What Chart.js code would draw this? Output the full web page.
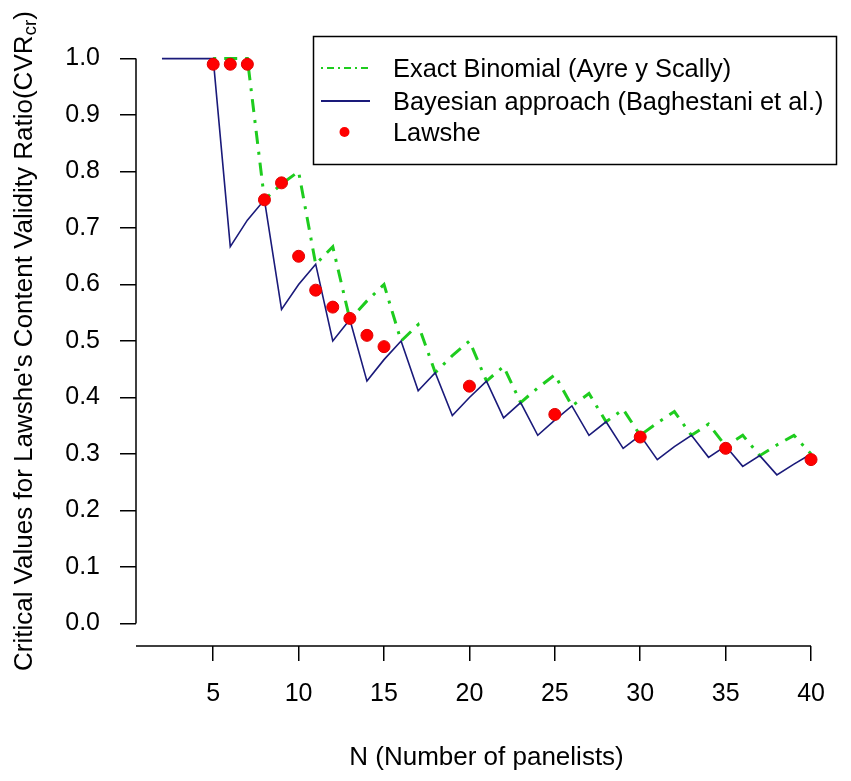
<!DOCTYPE html>
<html>
<head>
<meta charset="utf-8">
<title>Critical values for Lawshe's CVR</title>
<script src="https://cdn.jsdelivr.net/npm/chart.js@4.4.1/dist/chart.umd.min.js"></script>
<style>
    html, body { margin: 0; padding: 0; background: #fff; }
    #wrap { width: 851px; height: 781px; }
</style>
</head>
<body>
<div id="wrap"><canvas id="cvrChart" width="851" height="781"></canvas></div>
<script>
// ==========================================
// DATA
// ==========================================
const panelists = [2, 3, 4, 5, 6, 7, 8, 9, 10, 11, 12, 13, 14, 15, 16, 17, 18, 19, 20, 21,
    22, 23, 24, 25, 26, 27, 28, 29, 30, 31, 32, 33, 34, 35, 36, 37, 38, 39, 40];

// Exact binomial (Ayre y Scally) - not drawn below N = 5
const exactBinomial = [null, null, null, 1.0, 1.0, 1.0, 0.75, 0.778, 0.8, 0.636,
    0.667, 0.538, 0.571, 0.6, 0.5, 0.529, 0.444, 0.474, 0.5, 0.429,
    0.455, 0.391, 0.417, 0.44, 0.385, 0.407, 0.357, 0.379, 0.333, 0.355,
    0.375, 0.333, 0.353, 0.314, 0.333, 0.297, 0.316, 0.333, 0.3];

// Bayesian approach (Baghestani et al.)
const bayesian = [1.0, 1.0, 1.0, 1.0, 0.667, 0.714, 0.75, 0.556, 0.6, 0.636,
    0.5, 0.538, 0.429, 0.467, 0.5, 0.412, 0.444, 0.368, 0.4, 0.429,
    0.364, 0.391, 0.333, 0.36, 0.385, 0.333, 0.357, 0.31, 0.333, 0.29,
    0.313, 0.333, 0.294, 0.314, 0.278, 0.297, 0.263, 0.282, 0.3];

// Lawshe's original table
const lawsheN = [5, 6, 7, 8, 9, 10, 11, 12, 13, 14, 15, 20, 25, 30, 35, 40];
const lawsheCVR = [0.99, 0.99, 0.99, 0.75, 0.78, 0.65, 0.59, 0.56, 0.54, 0.51, 0.49,
    0.42, 0.37, 0.33, 0.31, 0.29];

const xTicks = [5, 10, 15, 20, 25, 30, 35, 40];
const yTicks = [0, 0.1, 0.2, 0.3, 0.4, 0.5, 0.6, 0.7, 0.8, 0.9, 1.0];

const seriesLabels = ['Exact Binomial (Ayre y Scally)', 'Bayesian approach (Baghestani et al.)', 'Lawshe'];
const xTitle = 'N (Number of panelists)';
const yTitle = "Critical Values for Lawshe's Content Validity Ratio(CVR";
const yTitleSub = 'cr';

const FONT = '"Liberation Sans", Arial, sans-serif';
const GREEN = '#1ECC1E';
const NAVY = '#1A1A7A';
const RED = '#FF0000';

// ==========================================
// PLUGINS: R-style axis lines, y title, legend box
// ==========================================
const rAxisLines = {
    id: 'rAxisLines',
    afterDraw(chart) {
        const { ctx, chartArea, scales } = chart;
        ctx.save();
        ctx.strokeStyle = '#000';
        ctx.lineWidth = 1.5;
        ctx.beginPath();
        ctx.moveTo(chartArea.left, chartArea.bottom);
        ctx.lineTo(scales.x.getPixelForValue(xTicks[xTicks.length - 1]), chartArea.bottom);
        ctx.moveTo(chartArea.left, scales.y.getPixelForValue(yTicks[0]));
        ctx.lineTo(chartArea.left, scales.y.getPixelForValue(yTicks[yTicks.length - 1]));
        ctx.stroke();

        // y title with subscript
        const cy = (chartArea.top + chartArea.bottom) / 2;
        ctx.fillStyle = '#000';
        ctx.font = '26px ' + FONT;
        const w1 = ctx.measureText(yTitle).width;
        ctx.font = '19px ' + FONT;
        const w2 = ctx.measureText(yTitleSub).width;
        ctx.font = '26px ' + FONT;
        const w3 = ctx.measureText(')').width;
        const total = w1 + w2 + w3;
        ctx.translate(25, cy);
        ctx.rotate(-Math.PI / 2);
        ctx.textBaseline = 'middle';
        ctx.textAlign = 'left';
        let x0 = -total / 2;
        ctx.fillText(yTitle, x0, 0);
        ctx.font = '19px ' + FONT;
        ctx.fillText(yTitleSub, x0 + w1, 6);
        ctx.font = '26px ' + FONT;
        ctx.fillText(')', x0 + w1 + w2, 0);
        ctx.restore();
    }
};

const boxLegend = {
    id: 'boxLegend',
    afterDraw(chart) {
        const { ctx, chartArea } = chart;
        const left = 313.5, top = 36.5;
        const right = chartArea.right - 0.5, bottom = 164.5;
        const rows = [68, 101, 132];
        ctx.save();
        ctx.fillStyle = '#fff';
        ctx.fillRect(left, top, right - left, bottom - top);
        ctx.strokeStyle = '#000';
        ctx.lineWidth = 1.5;
        ctx.strokeRect(left, top, right - left, bottom - top);

        // green dash-dot sample
        ctx.strokeStyle = GREEN;
        ctx.lineWidth = 2;
        ctx.setLineDash([2, 4, 7, 4]);
        ctx.beginPath();
        ctx.moveTo(321, rows[0]);
        ctx.lineTo(370, rows[0]);
        ctx.stroke();
        ctx.setLineDash([]);

        // navy solid sample
        ctx.strokeStyle = NAVY;
        ctx.lineWidth = 2;
        ctx.beginPath();
        ctx.moveTo(321, rows[1]);
        ctx.lineTo(370, rows[1]);
        ctx.stroke();

        // red point sample
        ctx.fillStyle = RED;
        ctx.beginPath();
        ctx.arc(344.5, rows[2], 5, 0, Math.PI * 2);
        ctx.fill();

        ctx.fillStyle = '#000';
        ctx.font = '25.4px ' + FONT;
        ctx.textBaseline = 'middle';
        seriesLabels.forEach((t, i) => ctx.fillText(t, 393, rows[i] + 2));
        ctx.restore();
    }
};

// ==========================================
// CHART
// ==========================================
function initCvrChart() {
    const ctx = document.getElementById('cvrChart');
    if (!ctx) return;

    new Chart(ctx, {
        type: 'line',
        data: {
            datasets: [
                {
                    label: seriesLabels[2],
                    type: 'scatter',
                    data: lawsheN.map((n, i) => ({ x: n, y: lawsheCVR[i] })),
                    backgroundColor: RED,
                    borderColor: '#E00000',
                    borderWidth: 1,
                    pointRadius: 6,
                    showLine: false,
                    order: 1
                },
                {
                    label: seriesLabels[1],
                    data: panelists.map((n, i) => ({ x: n, y: bayesian[i] })),
                    borderColor: NAVY,
                    borderWidth: 1.6,
                    pointRadius: 0,
                    tension: 0,
                    fill: false,
                    order: 2
                },
                {
                    label: seriesLabels[0],
                    data: panelists.map((n, i) => ({ x: n, y: exactBinomial[i] })),
                    borderColor: GREEN,
                    borderWidth: 3,
                    borderDash: [3, 8, 13, 8],
                    pointRadius: 0,
                    tension: 0,
                    fill: false,
                    spanGaps: false,
                    order: 3
                }
            ]
        },
        options: {
            responsive: false,
            animation: false,
            layout: {
                padding: { top: 36, right: 14, left: 0, bottom: 0 }
            },
            plugins: {
                legend: { display: false },
                tooltip: { enabled: false }
            },
            scales: {
                x: {
                    type: 'linear',
                    min: 0.48,
                    max: 41.52,
                    afterBuildTicks: function(scale) {
                        scale.ticks = xTicks.map(v => ({ value: v }));
                    },
                    afterFit: function(scale) {
                        scale.height = 135;
                    },
                    grid: {
                        drawOnChartArea: false,
                        drawTicks: true,
                        tickLength: 15,
                        color: '#000',
                        lineWidth: 1.5
                    },
                    border: { display: false },
                    ticks: {
                        autoSkip: false,
                        maxRotation: 0,
                        padding: 18,
                        color: '#000',
                        font: { family: FONT, size: 25 }
                    },
                    title: {
                        display: true,
                        text: xTitle,
                        color: '#000',
                        font: { family: FONT, size: 26 },
                        padding: { top: 0, bottom: 8 }
                    }
                },
                y: {
                    min: -0.04,
                    max: 1.04,
                    afterBuildTicks: function(scale) {
                        scale.ticks = yTicks.map(v => ({ value: v }));
                    },
                    afterFit: function(scale) {
                        scale.width = 136;
                    },
                    grid: {
                        drawOnChartArea: false,
                        drawTicks: true,
                        tickLength: 16,
                        color: '#000',
                        lineWidth: 1.5
                    },
                    border: { display: false },
                    ticks: {
                        autoSkip: false,
                        padding: 20,
                        color: '#000',
                        font: { family: FONT, size: 25 },
                        callback: function(value) {
                            return Number(value).toFixed(1);
                        }
                    }
                }
            }
        },
        plugins: [rAxisLines, boxLegend]
    });
}

initCvrChart();
</script>
</body>
</html>
